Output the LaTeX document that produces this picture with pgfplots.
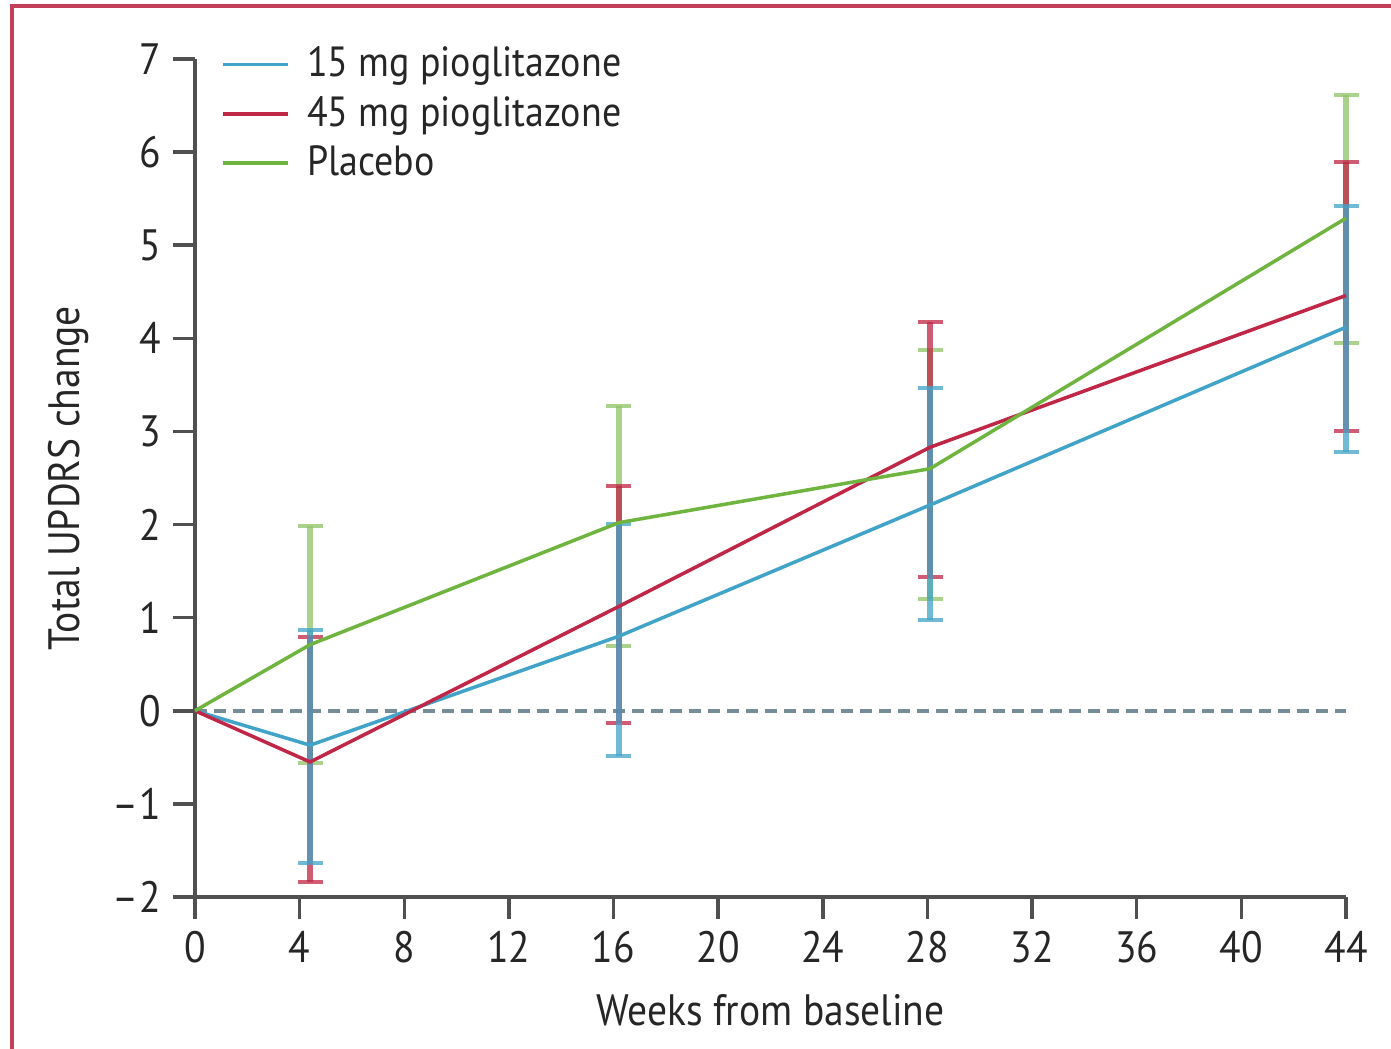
\documentclass[border=0pt]{standalone}
\usepackage{pgfplots}
\pgfplotsset{compat=1.18}
\usepackage{fontspec}
\setmainfont{PT Sans}[FakeStretch=0.9]
\definecolor{cblue}{RGB}{66,163,200}
\definecolor{cred}{RGB}{192,38,70}
\definecolor{cgreen}{RGB}{112,180,64}
\definecolor{axgray}{RGB}{80,80,80}
\definecolor{zgray}{RGB}{118,140,150}
\definecolor{framec}{RGB}{196,64,90}
\begin{document}
\begin{tikzpicture}
\begin{axis}[
  name=ax, at={(0,0)}, anchor=south west,
  width=11.51cm, height=8.38cm, scale only axis,
  xmin=0, xmax=44, ymin=-2, ymax=7,
  clip=false,
  axis x line*=bottom, axis y line*=left,
  axis line style={axgray, line width=1pt},
  xtick={0,4,...,44}, ytick={-2,-1,0,1,2,3,4,5,6,7},
  yticklabels={--2,--1,0,1,2,3,4,5,6,7},
  tick align=outside, major tick length=0.22cm,
  tick style={axgray, line width=1pt},
  /pgf/number format/assume math mode=true,
  ticklabel style={font=\fontsize{12.5}{14}\selectfont, text=black!85},
  xlabel={Weeks from baseline},
  ylabel={Total UPDRS change},
  xlabel style={at={(axis description cs:0.5,-0.135)}, anchor=center, font=\fontsize{12.5}{14}\selectfont, text=black!85},
  ylabel style={at={(axis description cs:-0.110,0.5)}, anchor=center, font=\fontsize{12.5}{14}\selectfont, text=black!85},
  legend style={at={(axis description cs:0.013,1.032)}, anchor=north west, draw=none, fill=none,
    font=\fontsize{12}{13}\selectfont, text=black!85, row sep=0pt,
    nodes={inner xsep=5pt}},
  legend cell align=left,
  legend image code/.code={\draw[#1, line width=1pt] (0cm,0cm) -- (0.65cm,0cm);},
]
% zero reference line
\addplot[forget plot, zgray, line width=1pt, dash pattern=on 0.12cm off 0.07cm] coordinates {(0,0) (44,0)};
% error bars
\addplot[forget plot, draw=none, mark=none,
  error bars/.cd, y dir=both, y explicit,
  error bar style={draw=cgreen!80, draw opacity=0.75, line width=0.06cm},
  error mark options={draw=cgreen!80, draw opacity=0.75, line width=0.04cm, mark size=0.125cm, rotate=90}]
coordinates {
  (4.4,0.71) += (0,1.27) -= (0,1.27)
  (16.2,2.02) += (0,1.25) -= (0,1.32)
  (28.1,2.60) += (0,1.27) -= (0,1.40)
  (44,5.29) += (0,1.32) -= (0,1.34)
};
\addplot[forget plot, draw=none, mark=none,
  error bars/.cd, y dir=both, y explicit,
  error bar style={draw=cred, draw opacity=0.75, line width=0.06cm},
  error mark options={draw=cred, draw opacity=0.75, line width=0.04cm, mark size=0.125cm, rotate=90}]
coordinates {
  (4.4,-0.55) += (0,1.34) -= (0,1.29)
  (16.2,1.12) += (0,1.29) -= (0,1.25)
  (28.1,2.83) += (0,1.35) -= (0,1.39)
  (44,4.46) += (0,1.43) -= (0,1.45)
};
\addplot[forget plot, draw=none, mark=none,
  error bars/.cd, y dir=both, y explicit,
  error bar style={draw=cblue, draw opacity=0.75, line width=0.06cm},
  error mark options={draw=cblue, draw opacity=0.75, line width=0.04cm, mark size=0.125cm, rotate=90}]
coordinates {
  (4.4,-0.37) += (0,1.24) -= (0,1.26)
  (16.2,0.80) += (0,1.21) -= (0,1.29)
  (28.1,2.21) += (0,1.26) -= (0,1.23)
  (44,4.12) += (0,1.30) -= (0,1.34)
};
% mean lines
\addplot[cblue, line width=1pt, mark=none] coordinates {(0,0) (4.4,-0.37) (16.2,0.80) (28.1,2.21) (44,4.12)};
\addlegendentry{15 mg pioglitazone}
\addplot[cred, line width=1pt, mark=none] coordinates {(0,0) (4.4,-0.55) (16.2,1.12) (28.1,2.83) (44,4.46)};
\addlegendentry{45 mg pioglitazone}
\addplot[cgreen, line width=1pt, mark=none] coordinates {(0,0) (4.4,0.71) (16.2,2.02) (28.1,2.60) (44,5.29)};
\addlegendentry{Placebo}
\end{axis}
\draw[framec, line width=0.035cm] (-1.83,-1.60) -- (-1.83,8.91) -- (12.05,8.91);
\pgfresetboundingbox
\useasboundingbox (-1.95,-1.52) rectangle (11.96,8.97);
\end{tikzpicture}
\end{document}
